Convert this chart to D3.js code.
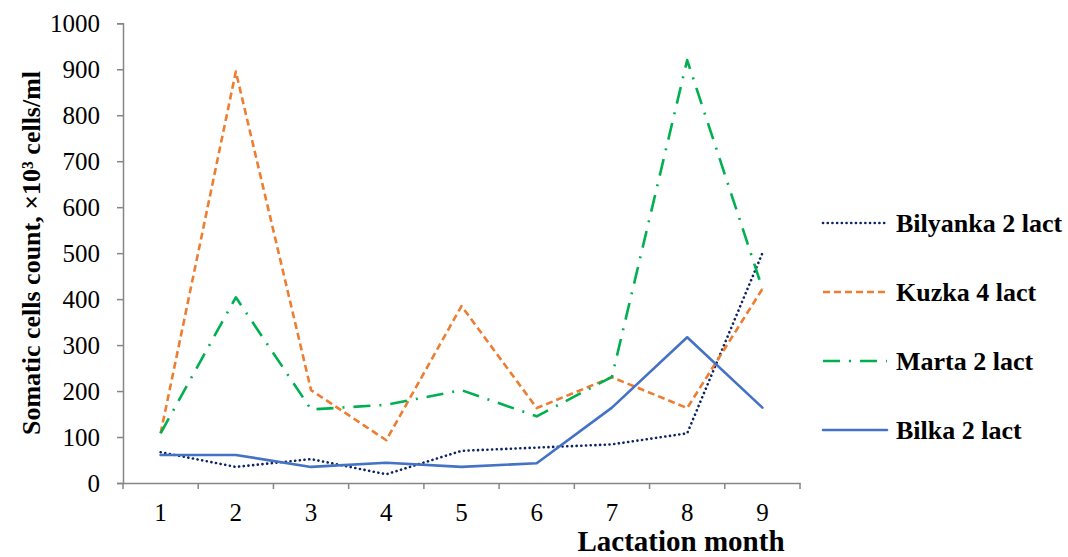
<!DOCTYPE html>
<html>
<head>
<meta charset="utf-8">
<script src="https://cdn.jsdelivr.net/npm/d3@7"></script>
<style>
  body { margin: 0; background: #fff; }
  svg text { font-family: "Liberation Serif", "Times New Roman", serif; fill: #000; }
</style>
</head>
<body>
<svg id="chart" width="1068" height="557"></svg>
<script>
const months = [1, 2, 3, 4, 5, 6, 7, 8, 9];
const bilyanka = [67, 35, 52, 19, 70, 77, 84, 108, 500];
const kuzka = [108, 895, 202, 93, 385, 163, 230, 163, 422];
const marta = [108, 404, 160, 170, 202, 145, 231, 920, 423];
const bilka = [61, 61, 35, 44, 35, 43, 164, 317, 164];
const seriesNames = ["Bilyanka 2 lact", "Kuzka 4 lact", "Marta 2 lact", "Bilka 2 lact"];
const yTicks = [0, 100, 200, 300, 400, 500, 600, 700, 800, 900, 1000];

const svg = d3.select("#chart");

const x = d3.scaleBand().domain(months).range([123, 800]).padding(0);
const y = d3.scaleLinear().domain([0, 1000]).range([483, 23.3]);

const series = [
    { name: seriesNames[0], values: bilyanka, color: "#0d2366", dash: "0.1,4.6", cap: "round", width: 2.6 },
    { name: seriesNames[1], values: kuzka, color: "#ed7d31", dash: "7,4", cap: "butt", width: 2.6 },
    { name: seriesNames[2], values: marta, color: "#00b050", dash: "17,9,2,9", cap: "butt", width: 2.6 },
    { name: seriesNames[3], values: bilka, color: "#4472c4", dash: null, cap: "round", width: 2.6 }
];

// y axis
const yAxis = svg.append("g")
    .attr("transform", "translate(123,0)")
    .call(d3.axisLeft(y).tickValues(yTicks).tickFormat(d3.format("d")).tickSize(6).tickPadding(17));
yAxis.select(".domain").attr("stroke", "#868686").attr("stroke-width", 1.5);
yAxis.selectAll(".tick line").attr("stroke", "#868686").attr("stroke-width", 1.5);
yAxis.selectAll(".tick text")
    .style("font-family", "'Liberation Serif', serif")
    .style("font-size", "25px");

// x axis, ticks on band edges
const xAxis = svg.append("g")
    .attr("transform", "translate(0,483)")
    .call(d3.axisBottom(x).tickSize(0).tickPadding(20));
xAxis.select(".domain").attr("stroke", "#868686").attr("stroke-width", 1.5);
xAxis.selectAll(".tick text")
    .style("font-family", "'Liberation Serif', serif")
    .style("font-size", "25px");
xAxis.selectAll(".edge")
    .data(months.map(m => x(m)).concat([x.range()[1]]))
    .enter()
    .append("line")
    .attr("x1", d => d).attr("x2", d => d)
    .attr("y1", 0).attr("y2", 6)
    .attr("stroke", "#868686").attr("stroke-width", 1.5);

// lines
const line = d3.line()
    .x((d, i) => x(months[i]) + x.bandwidth() / 2)
    .y(d => y(d));

series.forEach(s => {
    svg.append("path")
        .datum(s.values)
        .attr("d", line)
        .attr("fill", "none")
        .attr("stroke", s.color)
        .attr("stroke-width", s.width)
        .attr("stroke-linecap", s.cap)
        .attr("stroke-linejoin", "round")
        .attr("stroke-dasharray", s.dash);
});

// legend
const legend = svg.append("g");
series.forEach((s, i) => {
    const ly = 223 + i * 69;
    legend.append("line")
        .attr("x1", 823).attr("x2", 887)
        .attr("y1", ly).attr("y2", ly)
        .attr("stroke", s.color)
        .attr("stroke-width", s.width)
        .attr("stroke-linecap", s.cap)
        .attr("stroke-dasharray", s.dash);
    legend.append("text")
        .attr("x", 896).attr("y", ly + 9)
        .style("font-size", "26px")
        .style("font-weight", "bold")
        .text(s.name);
});

// axis titles
svg.append("text")
    .attr("transform", "translate(40,253) rotate(-90)")
    .attr("text-anchor", "middle")
    .style("font-size", "26px")
    .style("font-weight", "bold")
    .text("Somatic cells count, ×10³ cells/ml");

svg.append("text")
    .attr("x", 681).attr("y", 551)
    .attr("text-anchor", "middle")
    .style("font-size", "29px")
    .style("font-weight", "bold")
    .text("Lactation month");
</script>
</body>
</html>
